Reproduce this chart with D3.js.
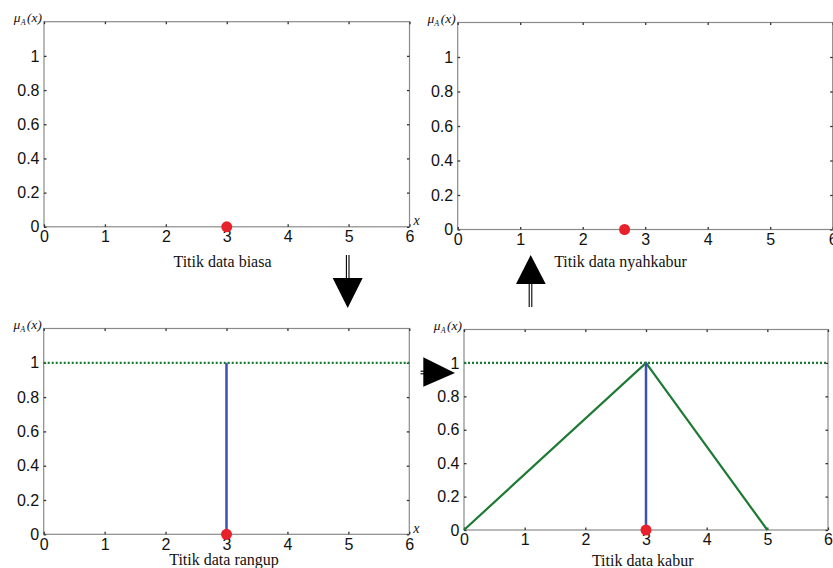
<!DOCTYPE html>
<html>
<head>
<meta charset="utf-8">
<script src="https://cdn.jsdelivr.net/npm/d3@7"></script>
<style>
html, body { margin: 0; padding: 0; background: #fff; overflow: hidden; }
svg { display: block; }
</style>
</head>
<body>
<svg id="chart" width="833" height="568"></svg>
<script>
// data
var xTicks = [0, 1, 2, 3, 4, 5, 6];
var yTicks = [0, 0.2, 0.4, 0.6, 0.8, 1];
var panelTitles = ['Titik data biasa', 'Titik data nyahkabur', 'Titik data rangup', 'Titik data kabur'];
var pointX = [3, 2.67, 3, 3];
var showHeight = [false, false, true, true];
var showSpike = [false, false, true, true];
var showTriangle = [false, false, false, true];
var showXLabel = [true, false, true, false];
var heightLineX = [0, 6];
var heightLineY = [1, 1];
var spikeX = [3, 3];
var spikeY = [0, 1];
var triangleX = [0, 3, 5];
var triangleY = [0, 1, 0];

// layout of the four axes boxes (pixels)
var boxes = [
	{left: 44, right: 409.5, top: 21.7, bottom: 226.8, titleX: 222.5, titleY: 267},
	{left: 457.7, right: 832.7, top: 22.5, bottom: 229.5, titleX: 620.5, titleY: 267},
	{left: 43.7, right: 409.3, top: 328.5, bottom: 534.3, titleX: 224, titleY: 565},
	{left: 464, right: 828, top: 329.5, bottom: 530, titleX: 642.7, titleY: 565.5}
];

var green = '#1d7a33';
var blue = '#3d52b0';
var red = '#e8212b';

var svg = d3.select('#chart');

function drawPanel(i)
{
	var b = boxes[i];
	var x = d3.scaleLinear().domain([0, 6]).range([b.left, b.right]);
	var y = d3.scaleLinear().domain([0, 1.2]).range([b.bottom, b.top]);
	var g = svg.append('g');

	// box
	g.append('rect')
		.attr('x', b.left).attr('y', b.top)
		.attr('width', b.right - b.left).attr('height', b.bottom - b.top)
		.attr('fill', 'none').attr('stroke', '#8a8a8a').attr('stroke-width', 1.2);

	// axes with inward ticks, labels only on bottom and left
	var ax = [
		{axis: d3.axisBottom(x).tickValues(xTicks).tickSizeInner(-2.5).tickSizeOuter(0).tickPadding(4).tickFormat(d3.format('d')), t: 'translate(0,' + b.bottom + ')', labels: true},
		{axis: d3.axisTop(x).tickValues(xTicks).tickSizeInner(-2.5).tickSizeOuter(0), t: 'translate(0,' + b.top + ')', labels: false},
		{axis: d3.axisLeft(y).tickValues(yTicks).tickSizeInner(-2.5).tickSizeOuter(0).tickPadding(4.5).tickFormat(d3.format('')), t: 'translate(' + b.left + ',0)', labels: true},
		{axis: d3.axisRight(y).tickValues(yTicks).tickSizeInner(-2.5).tickSizeOuter(0), t: 'translate(' + b.right + ',0)', labels: false}
	];
	ax.forEach(function(a)
	{
		var ag = g.append('g').attr('transform', a.t).call(a.axis);
		ag.select('.domain').remove();
		ag.selectAll('.tick line').attr('stroke', '#333').attr('stroke-width', 1.3);
		ag.selectAll('.tick text')
			.attr('fill', '#111')
			.attr('font-family', '"Liberation Sans", Arial, sans-serif')
			.attr('font-size', 16);
		if (!a.labels) ag.selectAll('.tick text').remove();
	});

	// mu_A(x) label
	var mu = g.append('text')
		.attr('x', b.left - 2).attr('y', b.top + 0.5)
		.attr('text-anchor', 'end')
		.attr('font-family', '"Liberation Serif", "Times New Roman", serif')
		.attr('font-style', 'italic')
		.attr('font-size', 13.5)
		.attr('fill', '#111');
	mu.append('tspan').text('\u03bc');
	mu.append('tspan').attr('font-size', 8).attr('dy', 3).text('A');
	mu.append('tspan').attr('dy', -3).attr('dx', 1.5).text('(x)');

	// x label at right end
	if (showXLabel[i])
	{
		g.append('text')
			.attr('x', b.right + 4).attr('y', b.bottom - 1.5)
			.attr('font-family', '"Liberation Serif", "Times New Roman", serif')
			.attr('font-style', 'italic')
			.attr('font-size', 14)
			.attr('fill', '#111')
			.text('x');
	}

	var line = d3.line().x(function(d) { return x(d[0]); }).y(function(d) { return y(d[1]); });

	if (showHeight[i])
	{
		g.append('path')
			.attr('d', line(d3.zip(heightLineX, heightLineY)))
			.attr('fill', 'none').attr('stroke', green)
			.attr('stroke-width', 2.2).attr('stroke-dasharray', '2,2');
	}
	if (showTriangle[i])
	{
		g.append('path')
			.attr('d', line(d3.zip(triangleX, triangleY)))
			.attr('fill', 'none').attr('stroke', green)
			.attr('stroke-width', 2.2).attr('stroke-linejoin', 'miter');
	}
	if (showSpike[i])
	{
		g.append('path')
			.attr('d', line(d3.zip(spikeX, spikeY)))
			.attr('fill', 'none').attr('stroke', blue).attr('stroke-width', 2.5);
	}

	g.append('circle')
		.attr('cx', x(pointX[i])).attr('cy', y(0))
		.attr('r', 5.5).attr('fill', red);

	g.append('text')
		.attr('x', b.titleX).attr('y', b.titleY)
		.attr('text-anchor', 'middle')
		.attr('font-family', '"Liberation Serif", "Times New Roman", serif')
		.attr('font-size', 16)
		.attr('fill', '#111')
		.text(panelTitles[i]);
}

for (var i = 0; i < boxes.length; i++)
{
	drawPanel(i);
}

// arrows between panels
function shaft(x1, y1, x2, y2, vertical)
{
	var off = 1.3;
	for (var k = -1; k <= 1; k += 2)
	{
		svg.append('line')
			.attr('x1', vertical ? x1 + k * off : x1).attr('y1', vertical ? y1 : y1 + k * off)
			.attr('x2', vertical ? x2 + k * off : x2).attr('y2', vertical ? y2 : y2 + k * off)
			.attr('stroke', '#000').attr('stroke-width', 1.1);
	}
}
function head(points)
{
	svg.append('path')
		.attr('d', 'M' + points.map(function(p) { return p.join(','); }).join('L') + 'Z')
		.attr('fill', '#000');
}

// down arrow (biasa -> rangup)
shaft(347.7, 255, 347.7, 279, true);
head([[332.7, 278], [362.7, 278], [347.7, 308]]);

// right arrow (rangup -> kabur)
shaft(420.5, 372.5, 424, 372.5, false);
head([[423.3, 357.3], [455, 373], [423.3, 386.7]]);

// up arrow (kabur -> nyahkabur)
shaft(530.5, 283, 530.5, 307, true);
head([[530.7, 255], [545.7, 284], [516, 284]]);
</script>
</body>
</html>
